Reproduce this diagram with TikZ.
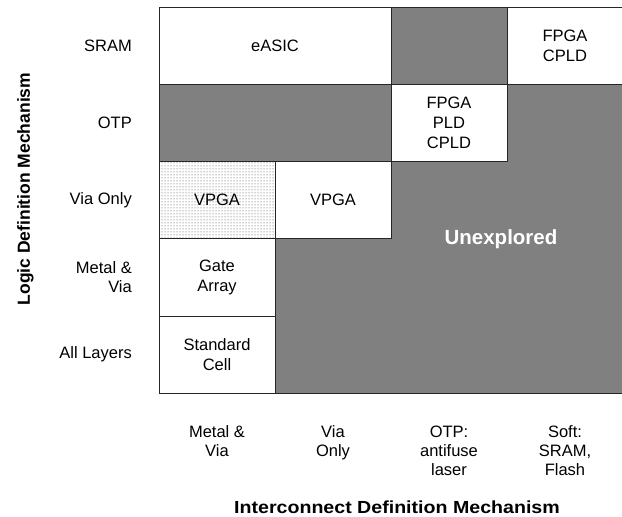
\documentclass[tikz,border=0pt]{standalone}
\usepackage{fontspec}
\setmainfont{Liberation Sans}
\usetikzlibrary{patterns}

\tikzset{
    cell/.style={draw=black!85, fill=white, line width=0.8pt, inner sep=0pt,
        minimum width=116pt, minimum height=77.1pt, align=center,
        font=\fontsize{16.5}{20}\selectfont},
    dotcell/.style={cell, preaction={fill=white}, pattern=dots, pattern color=black!75},
    rowlab/.style={anchor=east, align=right, inner sep=0pt,
        font=\fontsize{16.5}{19}\selectfont},
    collab/.style={anchor=north, align=center, inner sep=0pt,
        font=\fontsize{16.5}{19}\selectfont},
    axislab/.style={anchor=base, inner sep=0pt, font=\bfseries\fontsize{17.5}{20}\selectfont}
}

\begin{document}
\begin{tikzpicture}[x=1pt, y=-1pt]
    \useasboundingbox (0,0) rectangle (622,517);

    % unexplored area behind the cells
    \draw[black!85, fill=black!50, line width=0.8pt] (159,7.5) rectangle (623,393);
    \node[anchor=base, text=white, inner sep=0pt, font=\bfseries\fontsize{20.5}{24}\selectfont]
        (unexplored) at (501,244.3) {Unexplored};

    % implemented styles
    \node[cell, minimum width=232pt] (easic) at (275,46.05) {eASIC};
    \node[cell] (fpga-soft) at (565,46.05) {FPGA\\CPLD};
    \node[cell] (fpga-otp) at (449,123.15) {FPGA\\PLD\\CPLD};
    \node[dotcell] (vpga-a) at (217,200.25) {VPGA};
    \node[cell] (vpga-b) at (333,200.25) {VPGA};
    \node[cell] (gate-array) at (217,277.35) {Gate\\Array};
    \node[cell] (std-cell) at (217,354.45) {Standard\\Cell};

    % axes
    \foreach \lab [count=\i from 0] in {SRAM, OTP, Via Only, {Metal \&\\Via}, All Layers}
        \node[rowlab] (row-\i) at (132,{46.05+77.1*\i}) {\lab};
    \foreach \lab [count=\i from 0] in {{Metal \&\\Via}, {Via\\Only}, {OTP:\\antifuse\\laser}, {Soft:\\SRAM,\\Flash}}
        \node[collab] (col-\i) at ({217+116*\i},425.5) {\lab};

    \node[axislab, rotate=90] (logic-axis) at (30,189) {Logic Definition Mechanism};
    \node[axislab, xscale=1.12] (inter-axis) at (397,513) {Interconnect Definition Mechanism};
\end{tikzpicture}
\end{document}
